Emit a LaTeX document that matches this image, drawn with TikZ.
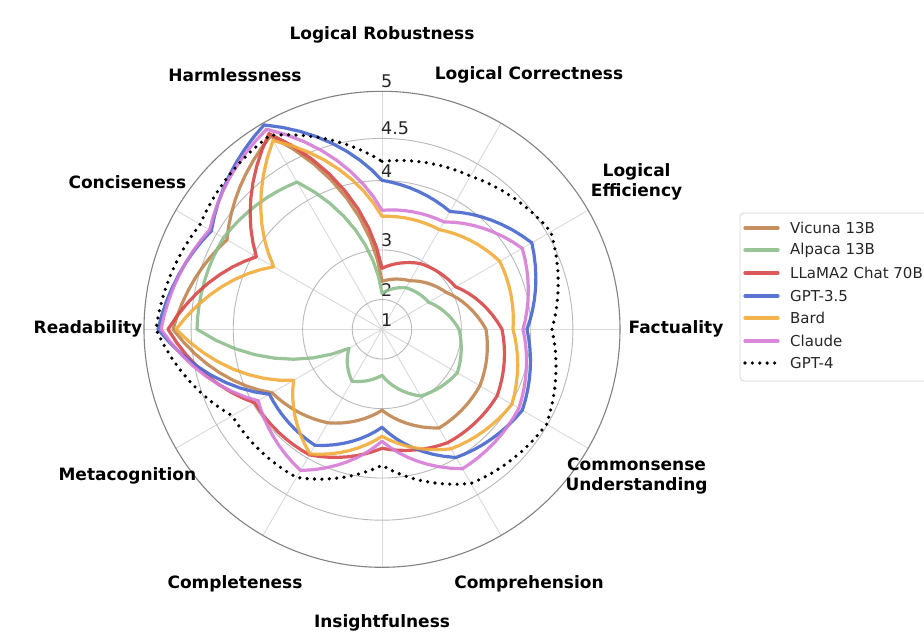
\documentclass[tikz,border=0pt]{standalone}
\usepackage{fontspec}
\setmainfont{DejaVu Sans}
\definecolor{vicuna}{RGB}{192,132,80}
\definecolor{alpaca}{RGB}{141,190,141}
\definecolor{llama}{RGB}{217,72,72}
\definecolor{gptthree}{RGB}{72,103,206}
\definecolor{bard}{RGB}{242,172,58}
\definecolor{claude}{RGB}{214,125,214}
\definecolor{ringgray}{RGB}{185,185,185}
\definecolor{spokegray}{RGB}{218,218,218}
\definecolor{outergray}{RGB}{130,130,130}
\definecolor{leggray}{RGB}{215,215,215}
% #1 style, #2 first radius, #3 remaining radii ending with the first again
\newcommand\radarline[3]{%
  \draw[#1] (90:#2) \foreach \rB [count=\kk from 0, remember=\rB as \rA (initially #2)] in {#3} {
    -- plot[domain=0:1,samples=9] ({90-30*(\kk+\x)}:{\rA+(\rB-\rA)*\x}) } -- cycle;
}
\begin{document}
\begin{tikzpicture}[x=1pt,y=1pt,
  axlab/.style={font=\bfseries\fontsize{17}{20}\selectfont, align=center, text=black, inner sep=0pt},
  ticklab/.style={font=\fontsize{17.5}{19}\selectfont, anchor=south west, inner sep=0pt, text=black!85},
  leglab/.style={font=\fontsize{15}{17}\selectfont, anchor=west, inner sep=0pt, text=black!85},
  series/.style={line width=3.2pt, line join=round, line cap=round, opacity=0.9},
  vic/.style={series, draw=vicuna},
  alp/.style={series, draw=alpaca},
  lla/.style={series, draw=llama},
  gpt/.style={series, draw=gptthree},
  brd/.style={series, draw=bard},
  cla/.style={series, draw=claude},
  gptfour/.style={line width=3.6pt, line cap=round, dash pattern=on 0pt off 7.4pt, draw=black},
  spoke/.style={draw=spokegray, line width=0.9pt},
  ring/.style={draw=ringgray, line width=0.9pt},
  outer/.style={draw=outergray, line width=1.1pt},
  legbox/.style={draw=leggray, line width=0.9pt, fill=white, rounded corners=4pt}]
\useasboundingbox (-382,-311.7) rectangle (542,329.3);
\clip (-382,-311.7) rectangle (542,329.3);
\fill[white] (-382,-311.7) rectangle (542,329.3);
% grid
\foreach \a in {0,30,...,330} \draw[spoke] (0,0) -- (\a:238);
\foreach \r in {29.75,79.33,148.75,190.9} \draw[ring] (0,0) circle[radius=\r];
\draw[outer] (0,0) circle[radius=238];
% radial tick labels
\foreach \r/\t [count=\i] in {0/1, 29.75/2, 79.33/3, 148.75/4, 190.9/4.5, 238/5}
  \node[ticklab] (tick\i) at (-1,\r+3) {\t};
% axis labels
\foreach \a/\t [count=\i] in {90/{Logical Robustness}, 60/{Logical Correctness}, 30/{Logical\\Efficiency},
  0/{Factuality}, -30/{Commonsense\\Understanding}, -60/{Comprehension}, -90/{Insightfulness},
  -120/{Completeness}, -150/{Metacognition}, 180/{Readability}, 150/{Conciseness}, 120/{Harmlessness}}
  \node[axlab] (axis\i) at (\a:294) {\t};
% series
\radarline{vic}{48}{56,74,104,113,114,81,108,127,209,179,223,48}
\radarline{alp}{36}{48,54,77,87,77,46,60,38,185,183,170,36}
\radarline{lla}{61}{76,85,120,133,131,119,145,147,214,145,226,61}
\radarline{gpt}{149}{136,173,145,162,148,98,134,130,224,197,236,149}
\radarline{brd}{113}{115,136,131,150,138,107,144,102,206,125,218,113}
\radarline{cla}{119}{124,162,141,158,161,112,163,143,221,199,231,119}
\radarline{gptfour}{168}{177,195,170,190,178,136,171,173,226,210,224,168}
% legend
\draw[legbox] (358,116.3) rectangle (560,-51.7);
\foreach \y/\s/\t [count=\i] in {101.3/vic/Vicuna 13B, 79.3/alp/Alpaca 13B, 56.3/lla/LLaMA2 Chat 70B,
  33.3/gpt/GPT-3.5, 11.3/brd/Bard, -11.7/cla/Claude, -33.7/gptfour/GPT-4} {
  \coordinate (ls\i) at (363,\y);
  \coordinate (le\i) at (396,\y);
  \draw[\s] (ls\i) -- (le\i);
  \node[leglab] (lt\i) at (408,\y) {\t};
}
\end{tikzpicture}
\end{document}
